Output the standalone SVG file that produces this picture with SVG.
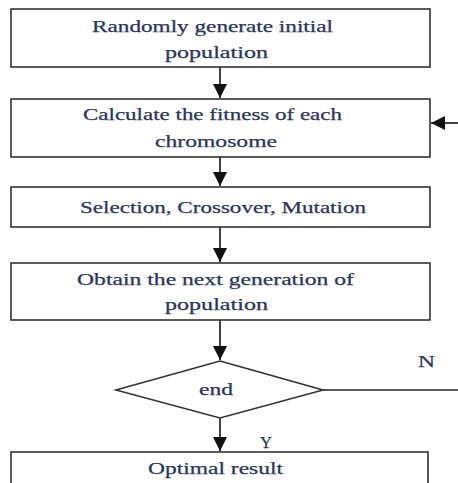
<svg xmlns="http://www.w3.org/2000/svg" width="458" height="483" viewBox="0 0 458 483">
<style>
.box{fill:#fff;stroke:#333;stroke-width:1.6}
.ln{fill:none;stroke:#222;stroke-width:1.7}
.t{font-family:"Liberation Serif","DejaVu Serif",serif;font-size:17px;fill:#2b3557;stroke:#2b3557;stroke-width:0.25;text-anchor:middle}
</style>
<defs>
<marker id="ah" viewBox="0 0 14 14" refX="14" refY="7" markerWidth="14" markerHeight="14" markerUnits="userSpaceOnUse" orient="auto">
<path d="M0,0 L14,7 L0,14 Z" fill="#111"/>
</marker>
</defs>
<rect width="458" height="483" fill="#fff"/>
<g id="connectors">
<line class="ln" x1="220" y1="67" x2="220" y2="98" marker-end="url(#ah)"/>
<line class="ln" x1="220" y1="157" x2="220" y2="186" marker-end="url(#ah)"/>
<line class="ln" x1="220" y1="227" x2="220" y2="262" marker-end="url(#ah)"/>
<line class="ln" x1="220" y1="320" x2="220" y2="360" marker-end="url(#ah)"/>
<line class="ln" x1="220" y1="418" x2="220" y2="451" marker-end="url(#ah)"/>
<line class="ln" x1="323" y1="390" x2="458" y2="390"/>
<line class="ln" x1="458" y1="123" x2="431" y2="123" marker-end="url(#ah)"/>
<text class="t" x="426.5" y="367" textLength="17" lengthAdjust="spacingAndGlyphs">N</text>
<text class="t" x="266" y="448" textLength="12" lengthAdjust="spacingAndGlyphs">Y</text>
</g>
<g id="n1">
<rect class="box" x="11" y="9" width="419" height="58"/>
<text class="t" x="212.5" y="32" textLength="241" lengthAdjust="spacingAndGlyphs">Randomly generate initial</text>
<text class="t" x="216.5" y="58" textLength="103" lengthAdjust="spacingAndGlyphs">population</text>
</g>
<g id="n2">
<rect class="box" x="11" y="99" width="419" height="58"/>
<text class="t" x="212.5" y="120" textLength="259" lengthAdjust="spacingAndGlyphs">Calculate the fitness of each</text>
<text class="t" x="216" y="147" textLength="122" lengthAdjust="spacingAndGlyphs">chromosome</text>
</g>
<g id="n3">
<rect class="box" x="11" y="187" width="419" height="40"/>
<text class="t" x="223" y="213" textLength="286" lengthAdjust="spacingAndGlyphs">Selection, Crossover, Mutation</text>
</g>
<g id="n4">
<rect class="box" x="11" y="263" width="419" height="57"/>
<text class="t" x="215.5" y="285" textLength="277" lengthAdjust="spacingAndGlyphs">Obtain the next generation of</text>
<text class="t" x="216.5" y="310" textLength="103" lengthAdjust="spacingAndGlyphs">population</text>
</g>
<g id="n5">
<polygon class="box" points="220,361 323,390 220,418 116,390"/>
<text class="t" x="216" y="395" textLength="34" lengthAdjust="spacingAndGlyphs">end</text>
</g>
<g id="n6">
<rect class="box" x="11" y="452" width="417" height="40"/>
<text class="t" x="215.5" y="474" textLength="135" lengthAdjust="spacingAndGlyphs">Optimal result</text>
</g>
</svg>
